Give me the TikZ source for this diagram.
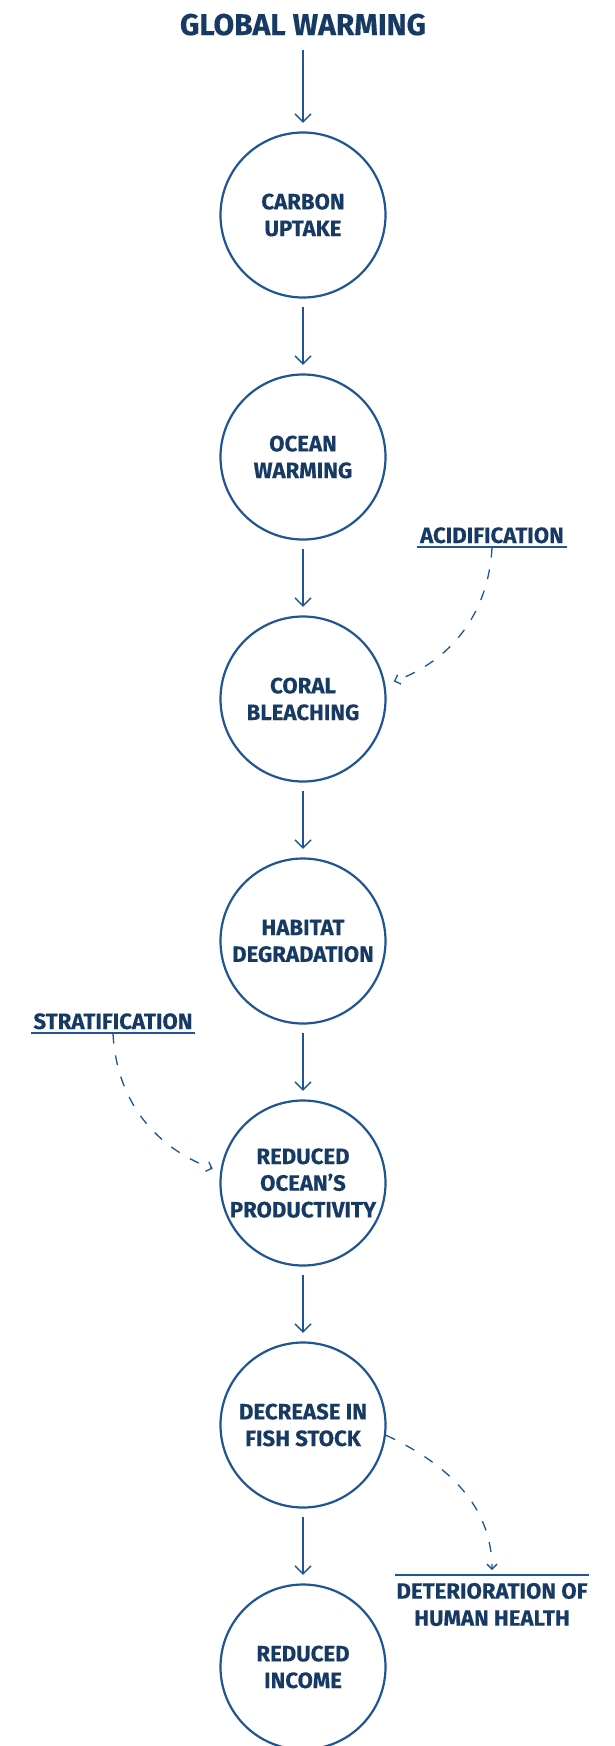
\documentclass[tikz,border=0pt]{standalone}
\usepackage{fontspec}
\setmainfont{Fira Sans}[BoldFeatures={FakeBold=0.3}]
\usetikzlibrary{arrows.meta}
\definecolor{ink}{HTML}{163A63}
\definecolor{stroke}{HTML}{1F5592}
\begin{document}
\begin{tikzpicture}[x=1pt,y=1pt,
  stage/.style={circle, draw=stroke, line width=2.2pt, minimum size=165pt,
    inner sep=0pt, text=ink, align=center,
    font=\bfseries\fontsize{22.2}{26.7}\selectfont},
  flow/.style={draw=stroke, line width=1.5pt,
    -{Straight Barb[length=8pt,width=16pt]}},
  link/.style={draw=stroke, line width=1.3pt, dash pattern=on 10pt off 12pt,
    -{Straight Barb[length=5pt,width=10pt]}},
  side/.style={text=ink, inner xsep=2.5pt, inner ysep=0pt,
    font=\bfseries\fontsize{22.2}{27}\selectfont},
  rule/.style={draw=stroke, line width=2.2pt},
]
\useasboundingbox[fill=white] (0,0) rectangle (614,-1746);

% title
\node[text=ink, inner sep=0pt, anchor=base, font=\bfseries\fontsize{30}{35}\selectfont]
  (title) at (303,-35) {GLOBAL WARMING};

% chain of stages
\node[stage] (c1) at (303,-215)  {CARBON\\UPTAKE};
\node[stage] (c2) at (303,-457)  {OCEAN\\WARMING};
\node[stage] (c3) at (303,-699)  {CORAL\\BLEACHING};
\node[stage] (c4) at (303,-941)  {HABITAT\\DEGRADATION};
\node[stage] (c5) at (303,-1183) {REDUCED\\OCEAN’S\\PRODUCTIVITY};
\node[stage] (c6) at (303,-1425) {DECREASE IN\\FISH STOCK};
\node[stage] (c7) at (303,-1667) {REDUCED\\INCOME};

\draw[flow] ([yshift=-15pt]title.base) -- ([yshift=8.5pt]c1.north);
\foreach \a/\b in {c1/c2,c2/c3,c3/c4,c4/c5,c5/c6,c6/c7}
  \draw[flow] ([yshift=-8.5pt]\a.south) -- ([yshift=8.5pt]\b.north);

% side factors
\node[side, anchor=base] (acid) at (492,-543) {ACIDIFICATION};
\draw[rule] ([yshift=-3.7pt]acid.base west) -- ([yshift=-3.7pt]acid.base east);
\draw[link, shorten >=9pt] ([yshift=-4.5pt]acid.base) to[out=-93,in=20] (c3.10);

\node[side, anchor=base] (strat) at (113,-1029) {STRATIFICATION};
\draw[rule] ([yshift=-3.7pt]strat.base west) -- ([yshift=-3.7pt]strat.base east);
\draw[link, shorten >=8pt] ([yshift=-4.5pt]strat.base) to[out=-87,in=160] (c5.172);

\node[side, align=center, anchor=north, inner xsep=1pt] (health) at (492,-1582.7)
  {DETERIORATION OF\\HUMAN HEALTH};
\draw[rule] ([yshift=7.7pt]health.north west) -- ([yshift=7.7pt]health.north east);
\draw[link, shorten >=5pt] (c6.-7) to[out=-25,in=90] ([yshift=7.7pt]health.north);
\end{tikzpicture}
\end{document}
